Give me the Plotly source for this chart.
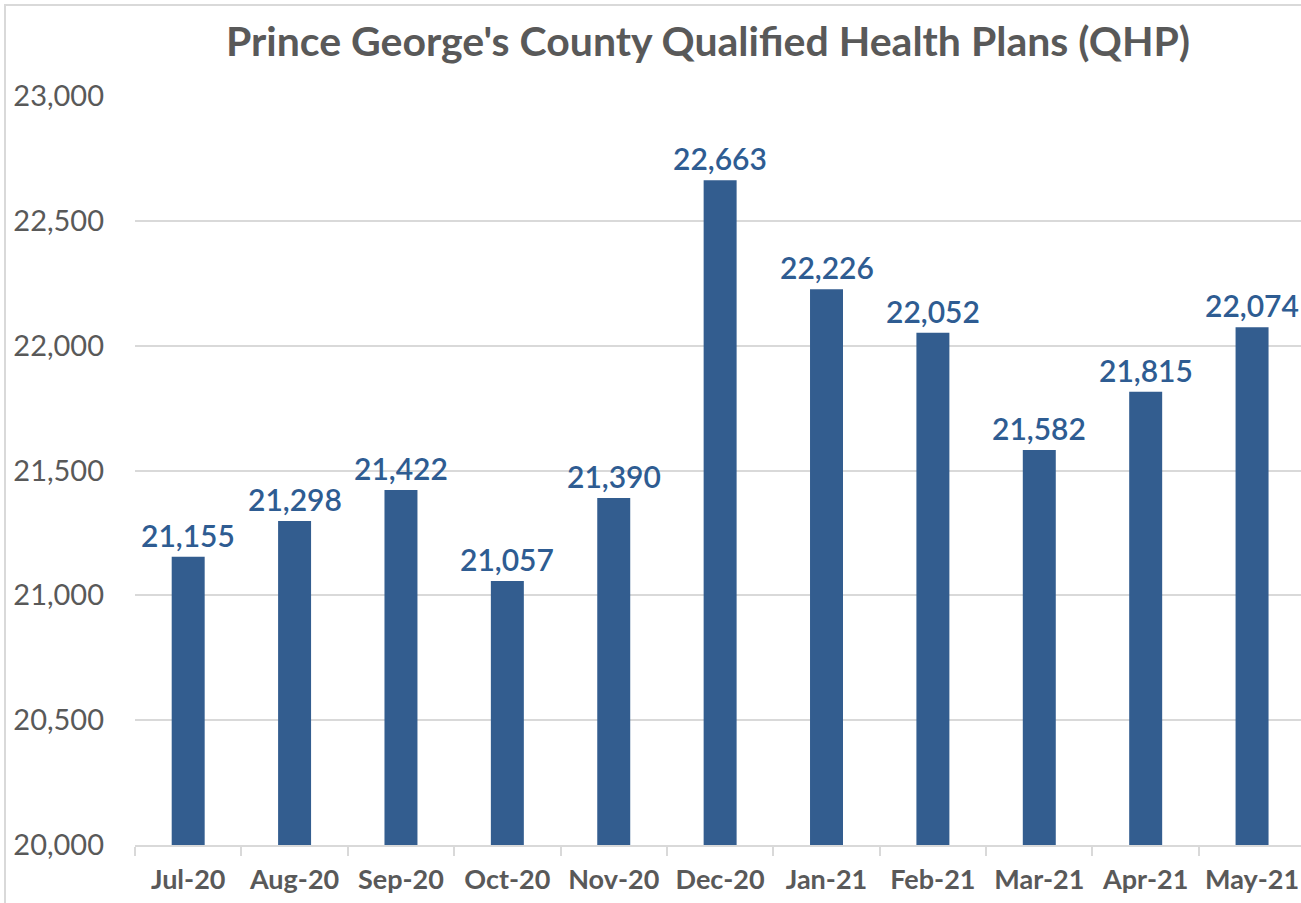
import plotly.graph_objects as go

# Monthly QHP enrolment, Prince George's County
months = ["Jul-20", "Aug-20", "Sep-20", "Oct-20", "Nov-20", "Dec-20",
          "Jan-21", "Feb-21", "Mar-21", "Apr-21", "May-21"]
enrolment = [21155, 21298, 21422, 21057, 21390, 22663,
             22226, 22052, 21582, 21815, 22074]
y_ticks = [20000, 20500, 21000, 21500, 22000, 22500, 23000]

BAR = "#335d8f"
LABEL = "#2e5c92"
GREY = "#595959"
GRID = "#d9d9d9"
FONT = "Lato, 'Open Sans', sans-serif"

W, H = 1301, 903
L, R, T, B = 135, 0, 96, 58
pw, ph = W - L - R, H - T - B

fig = go.Figure(go.Bar(
    x=months, y=enrolment,
    marker=dict(color=BAR, line=dict(width=0)),
    width=0.31,
    hoverinfo="x+y",
))

# data labels above each bar
for m, v in zip(months, enrolment):
    fig.add_annotation(
        x=m, y=v, text=f"{v:,}", showarrow=False,
        yanchor="bottom", yshift=2,
        font=dict(family=FONT, size=30, color=LABEL, weight=600),
    )

# light frame on the top/left edge, as in the source image
fig.add_shape(
    type="rect", xref="paper", yref="paper",
    x0=(5 - L) / pw, x1=1.2, y0=-0.2, y1=(H - B - 5) / ph,
    line=dict(color=GRID, width=2), layer="below",
)

fig.update_layout(
    width=W, height=H,
    margin=dict(l=L, r=R, t=T, b=B, autoexpand=False),
    paper_bgcolor="white", plot_bgcolor="white",
    title=dict(
        text="Prince George's County Qualified Health Plans (QHP)",
        x=(708 - L) / pw, xref="paper", xanchor="center",
        y=1 - 42 / H, yanchor="middle",
        font=dict(family=FONT, size=41, color=GREY, weight="bold"),
    ),
    bargap=0.69,
    showlegend=False,
    font=dict(family=FONT),
)

# the source image crops the last category slightly on the right
fig.update_xaxes(
    showgrid=False, automargin=False,
    showline=True, linecolor=GRID, linewidth=2,
    ticks="outside", tickson="boundaries", ticklen=9, tickcolor=GRID, tickwidth=2,
    tickangle=0, ticklabelstandoff=10,
    tickfont=dict(family=FONT, size=27, color=GREY, weight="bold"),
    range=[-0.5, 10.46],
)

fig.update_yaxes(
    range=[20000, 23000], automargin=False,
    tickvals=y_ticks, tickformat=",",
    showgrid=True, gridcolor=GRID, gridwidth=2,
    zeroline=False, showline=False,
    ticklabelstandoff=30,
    tickfont=dict(family=FONT, size=29, color=GREY),
)

# drop the default 8px page margin so the figure sits at the window origin
fig.write_html(
    "out.html",
    config={"displayModeBar": False},
    post_script="document.body.style.margin='0';",
)
